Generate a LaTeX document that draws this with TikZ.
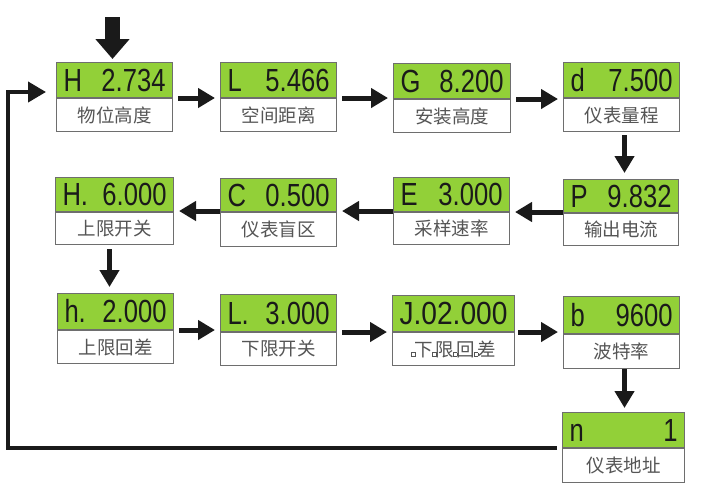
\documentclass[tikz,border=0pt]{standalone}
\usepackage{fontspec}
\usepackage{graphicx}
\usetikzlibrary{arrows.meta,calc}
\newfontfamily\cjk{Noto Sans CJK SC}
\newfontfamily\lcdf{Liberation Sans}
\definecolor{lcdgreen}{RGB}{146,208,56}
\definecolor{boxline}{RGB}{110,110,110}
\definecolor{arrc}{RGB}{26,26,26}
\definecolor{lbl}{RGB}{85,85,85}
\newcommand\lcdtxt[1]{\scalebox{0.8}[1]{#1}}
\newcommand\lcd[2]{\lcdtxt{#1}\hfill\lcdtxt{#2}}
\newcommand\sqb{{\setlength\fboxsep{0pt}\setlength\fboxrule{0.7pt}\fbox{\rule{0pt}{3pt}\rule{3pt}{0pt}}}}
\tikzset{
  disp/.style={draw=boxline, line width=1pt, fill=lcdgreen, anchor=north west,
    inner xsep=7pt, inner ysep=0pt, text width=#1, align=left,
    font={\lcdf\fontsize{32}{32}\selectfont}, text=arrc},
  lab/.style={draw=boxline, line width=1pt, fill=white, anchor=north west,
    inner sep=0pt, font={\cjk\fontsize{18.5}{18.5}\selectfont}, text=lbl},
  harr/.style={draw=arrc, line width=5pt, -{Triangle[length=17pt,width=19pt]}},
  retarr/.style={draw=arrc, line width=4pt, -{Triangle[length=18pt,width=20pt]}},
  toparr/.style={draw=arrc, line width=15pt, -{Triangle[length=20pt,width=33pt]}}
}
\begin{document}
\begin{tikzpicture}[x=1pt,y=-1pt]
\useasboundingbox (0,0) rectangle (708,491);
% row 1
\node[disp=102pt, minimum height=35pt] (g1) at (56,62) {\lcd{H}{2.734}};
\node[lab, minimum width=116pt, minimum height=33pt] (w1) at (g1.south west) {物位高度};
\node[disp=102pt, minimum height=35pt] (g2) at (220,62) {\lcd{L}{5.466}};
\node[lab, minimum width=116pt, minimum height=33pt] (w2) at (g2.south west) {空间距离};
\node[disp=103pt, minimum height=35pt] (g3) at (393,63) {\lcd{G}{8.200}};
\node[lab, minimum width=117pt, minimum height=33pt] (w3) at (g3.south west) {安装高度};
\node[disp=102pt, minimum height=35pt] (g4) at (563,62) {\lcd{d}{7.500}};
\node[lab, minimum width=116pt, minimum height=33pt] (w4) at (g4.south west) {仪表量程};
% row 2
\node[disp=104pt, minimum height=34pt] (g5) at (55,177) {\lcd{H.}{6.000}};
\node[lab, minimum width=118pt, minimum height=32pt] (w5) at (g5.south west) {上限开关};
\node[disp=102pt, minimum height=33pt] (g6) at (220,178) {\lcd{C}{0.500}};
\node[lab, minimum width=116pt, minimum height=34pt] (w6) at (g6.south west) {仪表盲区};
\node[disp=102pt, minimum height=34pt] (g7) at (393,177) {\lcd{E}{3.000}};
\node[lab, minimum width=116pt, minimum height=32pt] (w7) at (g7.south west) {采样速率};
\node[disp=101pt, minimum height=33pt] (g8) at (563,179) {\lcd{P}{9.832}};
\node[lab, minimum width=115pt, minimum height=32pt] (w8) at (g8.south west) {输出电流};
% row 3
\node[disp=102pt, minimum height=36pt] (g9) at (57,293) {\lcd{h.}{2.000}};
\node[lab, minimum width=116pt, minimum height=33pt] (w9) at (g9.south west) {上限回差};
\node[disp=102pt, minimum height=37pt] (g10) at (220,294) {\lcd{L.}{3.000}};
\node[lab, minimum width=116pt, minimum height=33pt] (w10) at (g10.south west) {下限开关};
\node[disp=108pt, minimum height=36pt, align=center] (g11) at (392,295) {\scalebox{0.88}[1]{J.02.000}};
\node[lab, minimum width=122pt, minimum height=33pt] (w11) at (g11.south west) {\sqb\kern-1pt 下\kern-1pt\sqb\kern-1pt 限\kern-1pt\sqb\kern-1pt 回\kern-1pt\sqb\kern-1pt 差};
\node[disp=102pt, minimum height=37pt] (g12) at (563,296) {\lcd{b}{9600}};
\node[lab, minimum width=116pt, minimum height=34pt] (w12) at (g12.south west) {波特率};
% row 4
\node[disp=108pt, minimum height=35pt] (g13) at (562,412) {\lcd{n}{1}};
\node[lab, minimum width=122pt, minimum height=34pt] (w13) at (g13.south west) {仪表地址};
% top entry arrow
\coordinate (topc) at (112.5,17);
\draw[toparr] (topc) -- ([yshift=3pt]topc |- g1.north);
% row 1 arrows
\draw[harr] ([xshift=5pt]g1.south east) -- ([xshift=-5pt]g1.south east -| w2.west);
\draw[harr] ([xshift=5pt]g2.south east) -- ([xshift=-5pt]g2.south east -| w3.west);
\draw[harr] ([xshift=5pt]g3.south east) -- ([xshift=-5pt]g3.south east -| w4.west);
% down to row 2
\draw[harr] ([xshift=3pt,yshift=-3pt]w4.south) -- ([xshift=3pt,yshift=6pt]w4.south |- g8.north);
% row 2 arrows (right to left)
\draw[harr] ([yshift=1pt]g8.south west) -- ([xshift=5pt,yshift=1pt]g8.south west -| w7.east);
\draw[harr] ([yshift=1pt]g7.south west) -- ([xshift=5pt,yshift=1pt]g7.south west -| w6.east);
\draw[harr] ([yshift=1pt]g6.south west) -- ([xshift=5pt,yshift=1pt]g6.south west -| w5.east);
% down to row 3
\draw[harr] ([xshift=-5pt,yshift=-4pt]w5.south) -- ([xshift=-5pt,yshift=6pt]w5.south |- g9.north);
% row 3 arrows
\draw[harr] ([xshift=5pt]g9.south east) -- ([xshift=-5pt]g9.south east -| w10.west);
\draw[harr] ([xshift=5pt]g10.south east) -- ([xshift=-5pt]g10.south east -| w11.west);
\draw[harr] ([xshift=3pt]g11.south east) -- ([xshift=-5pt]g11.south east -| w12.west);
% down to row 4
\draw[harr] ([xshift=3pt]w12.south) -- ([xshift=3pt,yshift=4pt]w12.south |- g13.north);
% return line
\coordinate (ret) at (8,92);
\draw[retarr] ([xshift=-5pt]g13.south west) -| (ret) -- ([xshift=-10pt]ret -| g1.west);
\end{tikzpicture}
\end{document}
